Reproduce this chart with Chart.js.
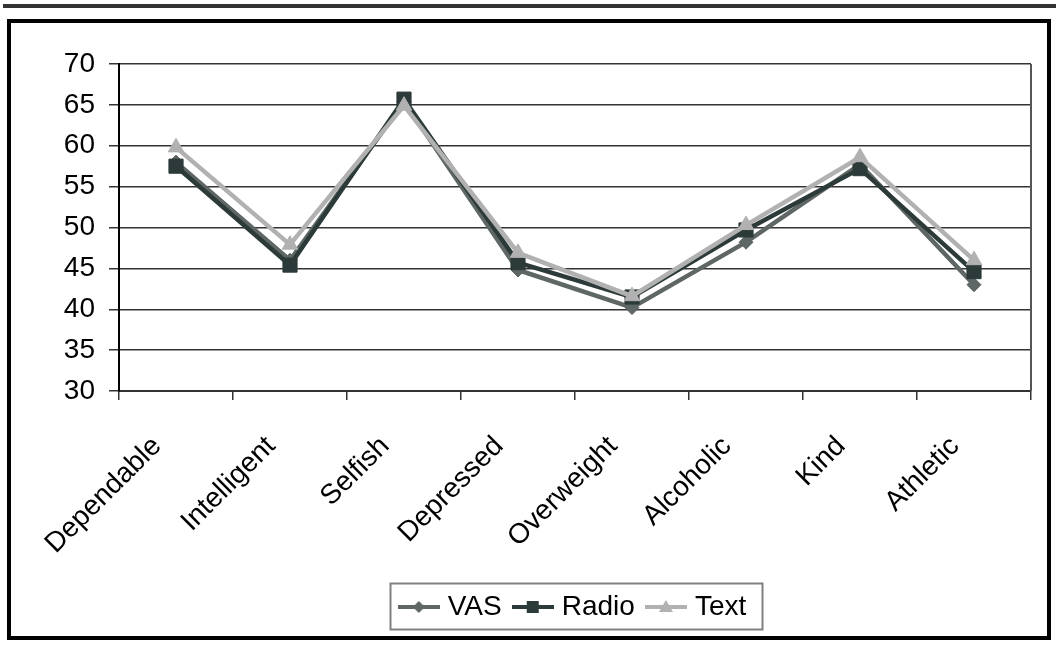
<!DOCTYPE html>
<html>
<head>
<meta charset="utf-8">
<script src="https://cdn.jsdelivr.net/npm/chart.js@4/dist/chart.umd.min.js"></script>
<style>
  html, body { margin: 0; padding: 0; background: #fff; }
  #wrap { position: relative; width: 1056px; height: 646px; }
</style>
</head>
<body>
<div id="wrap"><canvas id="c" width="1056" height="646"></canvas></div>
<script>
// Mean trait ratings per response format
const categories = ['Dependable', 'Intelligent', 'Selfish', 'Depressed', 'Overweight', 'Alcoholic', 'Kind', 'Athletic'];
const vasValues   = [58.0, 46.0, 65.4, 44.8, 40.2, 48.2, 57.7, 43.0];
const radioValues = [57.5, 45.4, 65.7, 45.7, 41.5, 49.7, 57.2, 44.6];
const textValues  = [59.8, 47.9, 64.9, 46.9, 41.6, 50.3, 58.6, 46.0];
const yTicks = [30, 35, 40, 45, 50, 55, 60, 65, 70];

const FONT = "'Liberation Sans', Arial, Helvetica, sans-serif";
const COLORS = { vas: '#5e6765', radio: '#2d3a3a', text: '#b1b1b1' };

// Legend glyph: short line segment with the series marker in the middle
function legendIcon(color, shape) {
  const cv = document.createElement('canvas');
  cv.width = 42; cv.height = 20;
  const g = cv.getContext('2d');
  g.strokeStyle = color; g.lineWidth = 4;
  g.beginPath(); g.moveTo(0, 10); g.lineTo(42, 10); g.stroke();
  g.fillStyle = color;
  g.beginPath();
  if (shape === 'diamond') {
    g.moveTo(21, 4); g.lineTo(27, 10); g.lineTo(21, 16); g.lineTo(15, 10);
  } else if (shape === 'square') {
    g.rect(15, 4, 12, 12);
  } else {
    g.moveTo(21, 3); g.lineTo(28, 15); g.lineTo(14, 15);
  }
  g.closePath(); g.fill();
  return cv;
}
const icons = [
  legendIcon(COLORS.vas, 'diamond'),
  legendIcon(COLORS.radio, 'square'),
  legendIcon(COLORS.text, 'triangle')
];

// Page rule, outer frame, right edge of the plot and the legend box
const decorations = {
  id: 'decorations',
  beforeDraw(chart) {
    const ctx = chart.ctx;
    ctx.save();
    ctx.fillStyle = '#fff';
    ctx.fillRect(0, 0, chart.width, chart.height);
    ctx.fillStyle = '#333';
    ctx.fillRect(3, 4, chart.width - 3, 4);
    ctx.strokeStyle = '#000';
    ctx.lineWidth = 4;
    ctx.strokeRect(9, 21, 1040, 617);
    ctx.restore();
  },
  afterDraw(chart) {
    const { ctx, chartArea: a, legend } = chart;
    ctx.save();
    ctx.strokeStyle = '#555';
    ctx.lineWidth = 2;
    ctx.beginPath();
    ctx.moveTo(a.right, a.top);
    ctx.lineTo(a.right, a.bottom);
    ctx.stroke();
    const hb = legend.legendHitBoxes;
    if (hb && hb.length) {
      const left = Math.min(...hb.map(h => h.left)) - 14;
      const right = Math.max(...hb.map(h => h.left + h.width)) + 16;
      const mid = hb[0].top + hb[0].height / 2;
      ctx.strokeStyle = '#808080';
      ctx.lineWidth = 2;
      ctx.strokeRect(Math.round(left) + 0.5, Math.round(mid - 24) + 0.5, Math.round(right - left), 46);
    }
    ctx.restore();
  }
};

function series(label, data, color, style, radius, order) {
  return {
    label, data, order,
    borderColor: color,
    backgroundColor: color,
    borderWidth: 4.5,
    pointStyle: style,
    pointRadius: radius,
    pointHoverRadius: radius,
    pointBackgroundColor: color,
    pointBorderColor: color,
    pointBorderWidth: 1,
    tension: 0,
    fill: false
  };
}

new Chart(document.getElementById('c'), {
  type: 'line',
  data: {
    labels: categories,
    datasets: [
      series('VAS', vasValues, COLORS.vas, 'rectRot', 7, 2),
      series('Radio', radioValues, COLORS.radio, 'rect', 10, 1),
      series('Text', textValues, COLORS.text, 'triangle', 9, 0)
    ]
  },
  options: {
    responsive: false,
    devicePixelRatio: 1,
    animation: false,
    layout: { padding: { top: 64, right: 25, bottom: 15, left: 0 } },
    plugins: {
      tooltip: { enabled: false },
      legend: {
        display: true,
        position: 'bottom',
        fullSize: false,
        labels: {
          usePointStyle: true,
          pointStyleWidth: 30,
          boxHeight: 28,
          padding: 16,
          color: '#000',
          font: { family: FONT, size: 28 },
          generateLabels: (chart) => chart.data.datasets.map((ds, i) => ({
            text: ds.label,
            pointStyle: icons[i],
            datasetIndex: i,
            hidden: false,
            fontColor: '#000',
            lineWidth: 0,
            strokeStyle: 'rgba(0,0,0,0)',
            fillStyle: 'rgba(0,0,0,0)'
          }))
        }
      }
    },
    scales: {
      x: {
        type: 'category',
        offset: true,
        grid: {
          display: true,
          offset: true,
          drawOnChartArea: false,
          drawTicks: true,
          tickLength: 9,
          color: '#333',
          lineWidth: 1.5
        },
        border: { display: true, color: '#333', width: 2 },
        ticks: {
          color: '#000',
          font: { family: FONT, size: 28 },
          minRotation: 45,
          maxRotation: 45,
          autoSkip: false,
          padding: 30,
          labelOffset: -19
        },
        afterFit: (scale) => { scale.height = 186; }
      },
      y: {
        min: 30,
        max: 70,
        afterBuildTicks: (scale) => { scale.ticks = yTicks.map(v => ({ value: v })); },
        grid: {
          color: '#333',
          lineWidth: 1.5,
          drawTicks: true,
          tickLength: 10
        },
        border: { display: true, color: '#000', width: 2 },
        ticks: {
          color: '#000',
          font: { family: FONT, size: 28 },
          padding: 14
        },
        afterFit: (scale) => { scale.width = 119; }
      }
    }
  },
  plugins: [decorations]
});
</script>
</body>
</html>
